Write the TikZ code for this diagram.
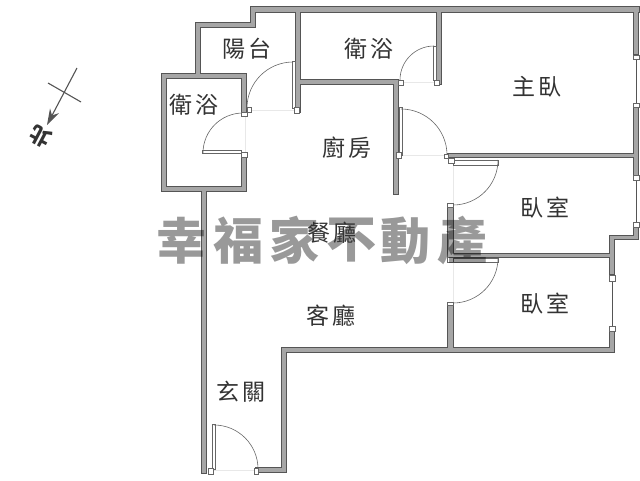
\documentclass[tikz,border=0pt]{standalone}
\usepackage{fontspec}
\usepackage{xcolor}
\newfontfamily\cjk{Noto Sans CJK TC}
\definecolor{wallFill}{HTML}{A6A6A6}
\definecolor{wallLine}{HTML}{555555}
\definecolor{doorLine}{HTML}{666666}
\definecolor{sillLine}{HTML}{E8E8E8}
\definecolor{roomText}{HTML}{333333}
\usetikzlibrary{arrows.meta}
\tikzset{
    room/.style={
        font=\cjk\fontsize{23}{23}\selectfont,
        text=roomText,
        inner sep=0pt
    },
    brand/.style={
        font=\cjk\bfseries\fontsize{50}{50}\selectfont,
        text=black,
        text opacity=0.40,
        inner sep=0pt
    },
    leaf/.style={
        draw=doorLine,
        fill=white,
        line width=0.5pt
    },
    swing/.style={
        draw=doorLine,
        line width=0.6pt
    },
    jamb/.style={
        draw=doorLine,
        fill=white,
        line width=0.5pt
    },
    sill/.style={
        draw=sillLine,
        line width=0.6pt
    },
    pane/.style={
        draw=wallLine,
        line width=0.7pt
    }
}
\begin{document}
\begin{tikzpicture}[x=1pt,y=-1pt]
    \useasboundingbox (0,0) rectangle (640,480);

    % Door sills
    \foreach \xa/\ya/\xb/\yb in {251/110/294/110, 245/116/245/152, 403/82/434/82,
        401/155/444/155, 453/165/453/203, 453/262/453/302, 213/470/254/470}
        \draw[sill] (\xa,\ya) -- (\xb,\yb);

    % Walls, first the dark outline and then the grey core
    \newcommand{\wallrects}{250/6/640/13, 250/6/256/28, 195/22/256/28, 195/22/201/75,
        161/73/247/79, 161/73/167/192, 161/186/247/192, 241/73/247/115, 241/155/247/192,
        201/186/207/474, 255/467/287/473, 281/347/287/473, 281/347/615/353,
        609/235/615/275, 609/330/615/353, 609/235/639/240, 633/226/639/240,
        633/105/639/178, 633/6/639/55, 295/6/301/113, 295/79/399/85, 393/79/399/195,
        436/6/442/85, 447/153/639/158, 447/253/615/258, 447/205/454/262, 447/303/454/353}
    \foreach \xa/\ya/\xb/\yb in \wallrects
        \fill[wallLine] (\xa,\ya) rectangle (\xb,\yb);
    \foreach \xa/\ya/\xb/\yb in \wallrects
        \fill[wallFill] (\xa+0.7,\ya+0.7) rectangle (\xb-0.7,\yb-0.7);

    % Windows
    \foreach \x/\ya/\yb in {636/59/103, 636/180/222, 612/281/326}
        \draw[pane] (\x,\ya) -- (\x,\yb);

    % Door leaves
    \foreach \xa/\ya/\xb/\yb in {292.5/61/295/108, 202/150.5/241/153.5, 433/46/436/80,
        399/107/402/155, 453/160.5/498/165, 453/258/498/262, 212/424/215/469}
        \draw[leaf] (\xa,\ya) rectangle (\xb,\yb);

    % Door swings
    \foreach \xc/\yc/\sa/\ea/\r in {293/108/270/180/46, 243/153/180/270/40, 434/80/270/180/34,
        401/155/270/360/46, 453/160/0/90/45, 453/258/0/90/45, 214/469/270/360/44}
        \draw[swing] (\xc,\yc) ++(\sa:\r) arc[start angle=\sa, end angle=\ea, radius=\r];

    % Jambs
    \foreach \xa/\ya/\xb/\yb in {294/107/299/113, 247/107/251/112, 241/112/247/116,
        241/152/247/157, 398/80/403/85, 434/80/439/85, 396/152/401/158, 444/154/448/158,
        448/158/454/163, 447/203/453/207, 447/257/453/262, 447/302/453/305,
        208/468/213/474, 254/468/258/474, 633/55/639/59, 633/103/639/107,
        633/175/639/180, 633/222/639/227, 609/275/615/281, 609/326/615/331}
        \draw[jamb] (\xa,\ya) rectangle (\xb,\yb);

    % Compass
    \coordinate (compasstop) at (77,68);
    \coordinate (compasstip) at (47,125);
    \coordinate (crossa) at (48,83);
    \coordinate (crossb) at (81,102);
    \draw[wallLine, line width=1.1pt, -{Stealth[length=16pt,width=10pt]}] (compasstop) -- (compasstip);
    \draw[wallLine, line width=1.1pt] (crossa) -- (crossb);
    \node[room, rotate=152, font=\cjk\bfseries\fontsize{21}{21}\selectfont] (north) at (40,137) {北};

    % Rooms
    \node[room] (balcony) at (247,49) {陽\,台};
    \node[room] (bathtop) at (369,49) {衛\,浴};
    \node[room] (bathleft) at (194,105) {衛\,浴};
    \node[room] (master) at (537,87) {主\,臥};
    \node[room] (kitchen) at (347,148) {廚\,房};
    \node[room] (bedone) at (545,208) {臥\,室};
    \node[room] (bedtwo) at (545,304) {臥\,室};
    \node[room] (living) at (331,316) {客\,廳};
    \node[room] (entry) at (241,392) {玄\,關};

    % Watermark
    \foreach \x/\ch in {181/幸, 238/福, 294/家, 351/不, 405/動, 462/產}
        \node[brand] (brand\x) at (\x,240.5) {\ch};

    % Dining room sits on top of the watermark
    \node[room] (dining) at (332,233) {餐\,廳};
\end{tikzpicture}
\end{document}
